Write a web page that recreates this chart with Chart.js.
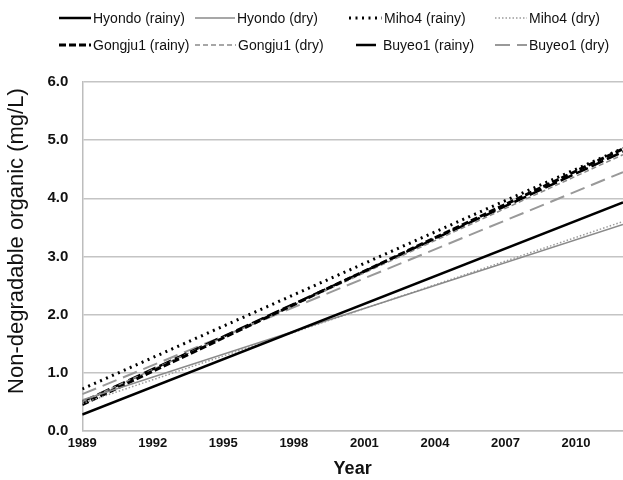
<!DOCTYPE html>
<html>
<head>
<meta charset="utf-8">
<script src="https://cdn.jsdelivr.net/npm/chart.js@4.4.1/dist/chart.umd.min.js"></script>
<style>
    html, body { margin: 0; padding: 0; background: #fff; }
    #wrap { position: relative; width: 623px; height: 480px; }
    #legend { position: absolute; left: 0; top: 0; width: 623px; height: 60px; font-family: "Liberation Sans", Arial, sans-serif; font-size: 14px; color: #111; }
    .item { position: absolute; display: flex; align-items: center; white-space: nowrap; }
    .item svg { display: block; margin-right: 2px; }
</style>
</head>
<body>
<div id="wrap">
    <div id="legend"></div>
    <canvas id="chart" width="623" height="480"></canvas>
</div>
<script>
// Data (trend lines, start and end of the period)
const years = [1989, 2012];
const yearTicks = [1989, 1992, 1995, 1998, 2001, 2004, 2007, 2010];
const seriesNames = ['Hyondo (rainy)', 'Hyondo (dry)', 'Miho4 (rainy)', 'Miho4 (dry)',
                     'Gongju1 (rainy)', 'Gongju1 (dry)', 'Buyeo1 (rainy)', 'Buyeo1 (dry)'];
const hyondoRainy = [0.28, 3.93];
const hyondoDry = [0.53, 3.55];
const miho4Rainy = [0.72, 4.86];
const miho4Dry = [0.47, 3.60];
const gongju1Rainy = [0.45, 4.85];
const gongju1Dry = [0.50, 4.75];
const buyeo1Rainy = [0.50, 4.80];
const buyeo1Dry = [0.63, 4.45];

// Line styles
const styles = [
    { color: '#000', width: 2.5, dash: [] },
    { color: '#8a8a8a', width: 1.5, dash: [] },
    { color: '#000', width: 3, dash: [2, 4.5] },
    { color: '#9a9a9a', width: 1.5, dash: [1.5, 2] },
    { color: '#000', width: 3, dash: [7, 3] },
    { color: '#8a8a8a', width: 1.5, dash: [5, 3] },
    { color: '#000', width: 2.5, dash: [13, 4] },
    { color: '#999', width: 2, dash: [15, 7] }
];
const seriesValues = [hyondoRainy, hyondoDry, miho4Rainy, miho4Dry, gongju1Rainy, gongju1Dry, buyeo1Rainy, buyeo1Dry];

const datasets = seriesNames.map((name, i) => ({
    label: name,
    data: seriesValues[i].map((v, j) => ({ x: years[j], y: v })),
    borderColor: styles[i].color,
    borderWidth: styles[i].width,
    borderDash: styles[i].dash,
    pointRadius: 0,
    fill: false,
    tension: 0
}));

// HTML legend, two rows of four
const legendPos = [
    { left: 59, top: 8, w: 32 }, { left: 195, top: 8, w: 40 }, { left: 349, top: 8, w: 33 }, { left: 495, top: 8, w: 32 },
    { left: 59, top: 35, w: 32 }, { left: 195, top: 35, w: 41 }, { left: 353, top: 35, w: 28 }, { left: 495, top: 35, w: 32 }
];
const legendEl = document.getElementById('legend');
seriesNames.forEach((name, i) => {
    const p = legendPos[i];
    const s = styles[i];
    const item = document.createElement('div');
    item.className = 'item';
    item.style.left = p.left + 'px';
    item.style.top = p.top + 'px';
    let dash = s.dash.join(',');
    if (i === 6) dash = '0,3,20,10';
    item.innerHTML = `<svg width="${p.w}" height="20"><line x1="0" y1="10" x2="${p.w}" y2="10" stroke="${s.color}" stroke-width="${s.width}" stroke-dasharray="${dash}"/></svg><span>${name}</span>`;
    legendEl.appendChild(item);
});

const ctx = document.getElementById('chart').getContext('2d');
new Chart(ctx, {
    type: 'line',
    data: { datasets: datasets },
    options: {
        responsive: false,
        animation: false,
        layout: { padding: { top: 82, right: 0, left: 4, bottom: 0 } },
        plugins: { legend: { display: false }, tooltip: { enabled: false } },
        scales: {
            x: {
                type: 'linear',
                min: years[0],
                max: years[years.length - 1],
                afterBuildTicks: axis => { axis.ticks = yearTicks.map(v => ({ value: v })); },
                grid: { display: false, drawTicks: false },
                border: { color: '#bdbdbd', width: 1.5 },
                ticks: {
                    color: '#111',
                    padding: 5,
                    maxRotation: 0,
                    font: { family: '"Liberation Sans", Arial, sans-serif', size: 13, weight: 'bold' },
                    callback: v => String(v)
                },
                title: {
                    display: true,
                    text: 'Year',
                    color: '#111',
                    padding: { top: 2, bottom: 0 },
                    font: { family: '"Liberation Sans", Arial, sans-serif', size: 18, weight: 'bold' }
                }
            },
            y: {
                min: 0,
                max: 6,
                ticks: {
                    stepSize: 1,
                    color: '#111',
                    padding: 14,
                    font: { family: '"Liberation Sans", Arial, sans-serif', size: 15, weight: 'bold' },
                    callback: v => v.toFixed(1)
                },
                grid: { color: '#c4c4c4', lineWidth: 1.5, drawTicks: false },
                border: { color: '#bdbdbd', width: 1.5 },
                title: {
                    display: true,
                    // leading spaces nudge the rotated title up, as in the reference
                    text: '     Non-degradable organic (mg/L)',
                    color: '#111',
                    padding: { top: 0, bottom: 3 },
                    font: { family: '"Liberation Sans", Arial, sans-serif', size: 22 }
                }
            }
        }
    }
});
</script>
</body>
</html>
